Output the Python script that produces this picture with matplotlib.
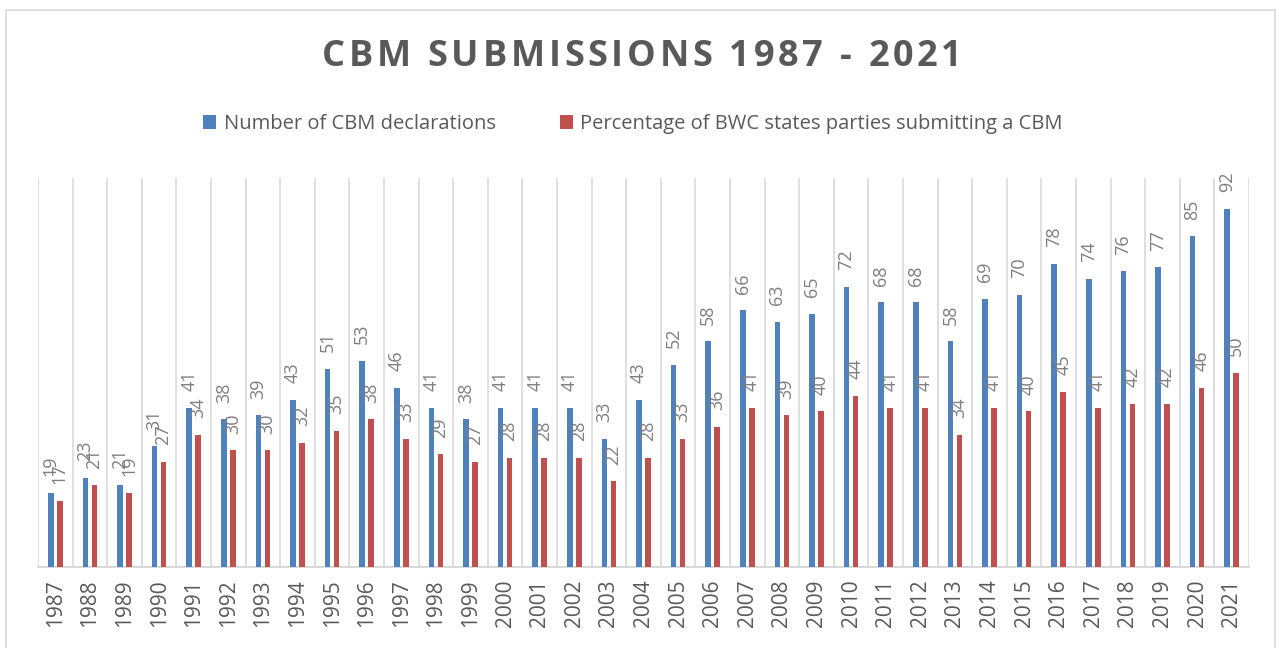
# CBM submissions chart, 1987 - 2021
import numpy as np
import matplotlib.pyplot as plt
from matplotlib.patches import Rectangle

plt.rcParams['font.family'] = ['Open Sans', 'DejaVu Sans']

years = [str(y) for y in range(1987, 2022)]
declarations = [19, 23, 21, 31, 41, 38, 39, 43, 51, 53, 46, 41, 38, 41, 41, 41, 33, 43,
                52, 58, 66, 63, 65, 72, 68, 68, 58, 69, 70, 78, 74, 76, 77, 85, 92]
percentage = [17, 21, 19, 27, 34, 30, 30, 32, 35, 38, 33, 29, 27, 28, 28, 28, 22, 28,
              33, 36, 41, 39, 40, 44, 41, 41, 34, 41, 40, 45, 41, 42, 42, 46, 50]

blue = '#4F81BD'
red = '#C0504D'
grid = '#D9D9D9'
label_gray = '#7F7F7F'
text_gray = '#595959'

W, H = 1279, 648
fig = plt.figure(figsize=(W / 100, H / 100), dpi=100)
# outer chart border
fig.patches.append(Rectangle((6 / W, -0.01), 1269 / W, 1 - 10 / H + 0.01,
                             transform=fig.transFigure, fill=False, edgecolor=grid, lw=1.2))

ax = fig.add_axes([38 / W, 81 / H, 1211 / W, 389 / H])
x = np.arange(len(years))
off = 0.13
w = 0.16
b1 = ax.bar(x - off, declarations, w, color=blue, label='Number of CBM declarations', zorder=3)
b2 = ax.bar(x + off, percentage, w, color=red,
            label='Percentage of BWC states parties submitting a CBM', zorder=3)

for bars in (b1, b2):
    for r in bars:
        ax.annotate(f'{r.get_height():.0f}', (r.get_x() + r.get_width() / 2, r.get_height()),
                    xytext=(0, 12), textcoords='offset points', rotation=90,
                    ha='center', va='bottom', fontsize=13, color=label_gray, zorder=4)

for i in range(len(years) + 1):
    ax.axvline(i - 0.5, color=grid, lw=1.2, zorder=1)

ax.set_xlim(-0.5, len(years) - 0.5)
ax.set_ylim(0, 100)
ax.set_yticks([])
for s in ('top', 'left', 'right'):
    ax.spines[s].set_visible(False)
ax.spines['bottom'].set_color(grid)
ax.spines['bottom'].set_linewidth(1.5)
ax.set_xticks(x)
ax.set_xticklabels(years, rotation=90, fontsize=15, color=text_gray)
ax.tick_params(axis='x', length=0, pad=9)

# letter-spaced title, spread between x=322 and x=962 px
title = 'CBM SUBMISSIONS 1987 - 2021'
tkw = dict(fontsize=26, fontweight='bold', color=text_gray, va='center', ha='left')
renderer = fig.canvas.get_renderer()
def text_width(s):
    t = fig.text(0, 0, s, **tkw)
    wpx = t.get_window_extent(renderer).width
    t.remove()
    return wpx
full = text_width(title)
gap = (640 - full) / (len(title) - 1)
for i, ch in enumerate(title):
    xpos = 322 + (text_width(title[:i]) if i else 0) + i * gap
    fig.text(xpos / W, 1 - 57 / H, ch, **tkw)

fig.legend(loc='center', bbox_to_anchor=(633 / W, 1 - 124 / H), ncol=2, frameon=False,
           fontsize=14.5, labelcolor=text_gray, handlelength=0.65, handleheight=0.65,
           handletextpad=0.35, columnspacing=3.2)

fig.savefig('out.png', dpi=100)
